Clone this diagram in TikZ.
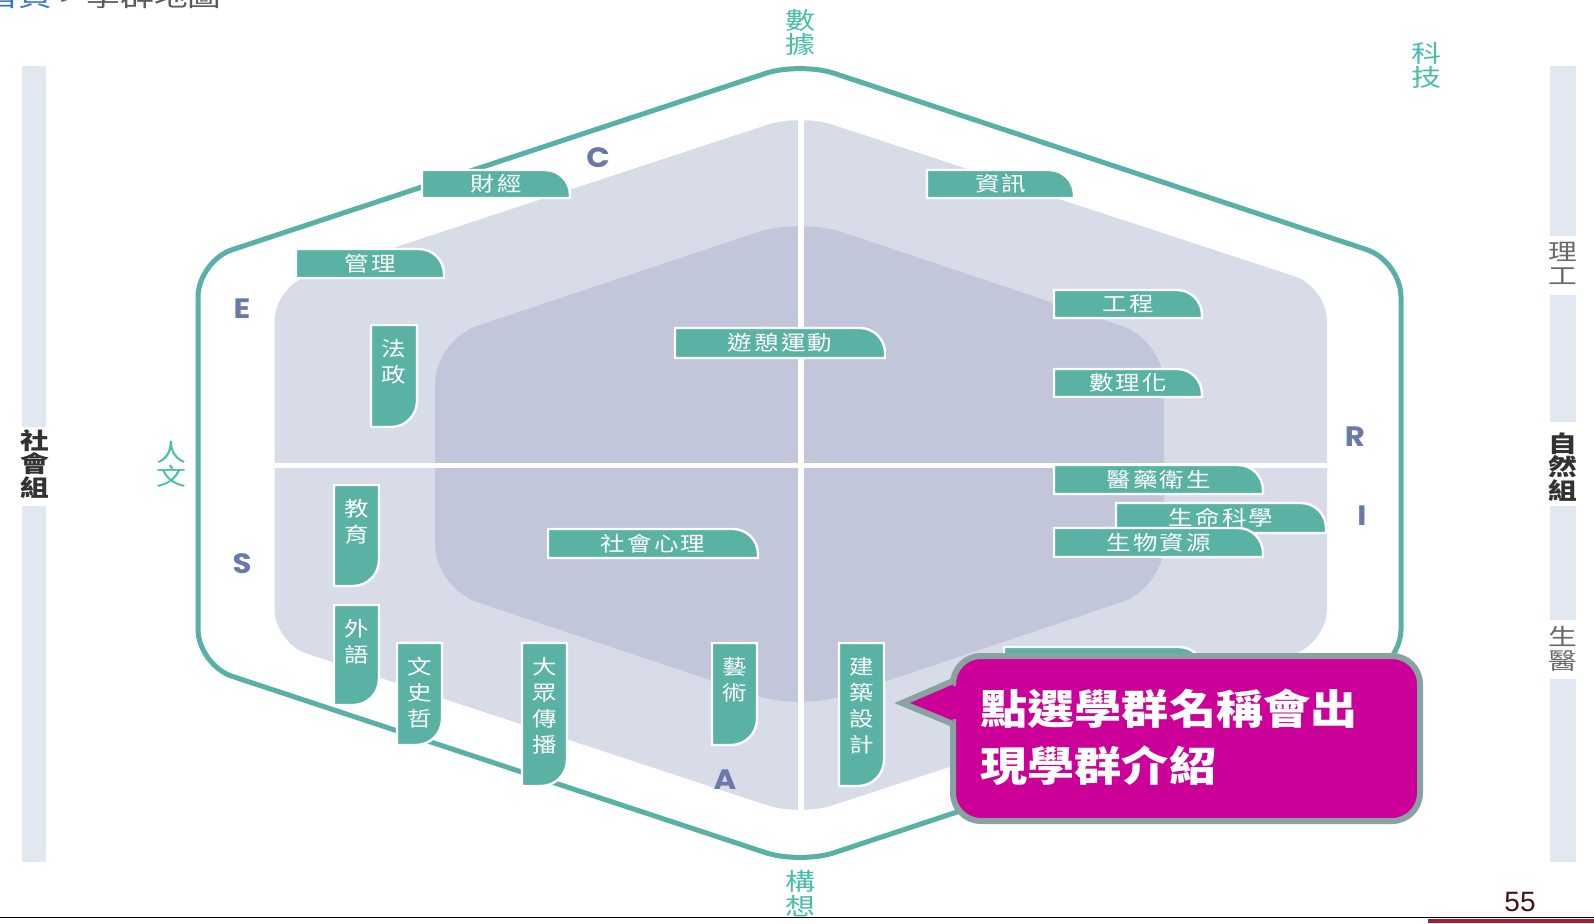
\documentclass[tikz,border=0pt]{standalone}
\usepackage{fontspec}
\newfontfamily\cjk{Noto Sans CJK TC}[FakeStretch=1.25]
\newfontfamily\cjkbox{Noto Sans CJK TC}[FakeStretch=1.2,LetterSpace=10]
\newfontfamily\cjkvert{Noto Sans CJK TC}[FakeStretch=1.2]
\newfontfamily\cjkcall{Noto Sans CJK TC}[FakeStretch=1.15]
\newfontfamily\geo{Poppins}[FakeStretch=1.1]
\newfontfamily\arialike{Liberation Sans}

\definecolor{tealline}{RGB}{88,176,166}
\definecolor{tealbox}{RGB}{90,178,165}
\definecolor{teallab}{RGB}{72,190,170}
\definecolor{hexlight}{RGB}{215,220,232}
\definecolor{hexdark}{RGB}{193,198,218}
\definecolor{sidebar}{RGB}{226,232,241}
\definecolor{lettercol}{RGB}{107,120,170}
\definecolor{callfill}{RGB}{204,0,153}
\definecolor{callborder}{RGB}{137,163,163}
\definecolor{crumbblue}{RGB}{60,120,200}
\definecolor{crumbgray}{RGB}{90,90,90}
\definecolor{pagenum}{RGB}{70,20,20}
\definecolor{crimsonband}{RGB}{165,30,45}
\definecolor{groupdark}{RGB}{50,50,50}
\definecolor{groupgray}{RGB}{105,105,105}

\tikzset{
  labbox/.style={fill=tealbox, draw=white, line width=1.2pt},
  hlabel/.style={inner sep=0pt, text=white, font=\cjkbox\fontsize{10.2}{12}\selectfont},
  vlabel/.style={inner sep=0pt, text=white, align=center, font=\cjkvert\fontsize{10.2}{13}\selectfont},
  teallabel/.style={inner sep=0pt, text=teallab, align=center, font=\cjk\fontsize{12}{12.2}\selectfont},
  sidelabel/.style={inner sep=0pt, align=center, font=\cjk\bfseries\fontsize{11.5}{11.85}\selectfont},
  sidelabelthin/.style={inner sep=0pt, align=center, font=\cjk\fontsize{11.5}{11.85}\selectfont},
  letterlab/.style={inner sep=0pt, text=lettercol, font=\geo\bfseries\fontsize{14}{14}\selectfont},
  sidebarfill/.style={fill=sidebar, draw=none},
  outerhex/.style={draw=tealline, line width=2.5pt, rounded corners=18pt},
  callshape/.style={fill=callfill, draw=callborder, line width=3pt},
  calltext/.style={inner sep=0pt, text=white, align=left, font=\cjkcall\bfseries\fontsize{20.5}{28.5}\selectfont},
}

% horizontal label box: name, x, y, w, h, text
\newcommand\hbx[6]{%
  \pgfmathsetmacro\bxa{#2}\pgfmathsetmacro\bxb{#2+#4}%
  \pgfmathsetmacro\bya{#3}\pgfmathsetmacro\byb{#3+#5}%
  \draw[labbox] (\bxa,\bya) -- ({\bxb-25},\bya) .. controls ({\bxb-11.2},\bya) and (\bxb,{\bya+11.2}) .. (\bxb,{\bya+25}) -- (\bxb,\byb) -- (\bxa,\byb) -- cycle;
  \node[hlabel] (#1) at ({#2+#4/2},{#3+#5/2}) {#6};
}
% vertical label box: name, x, y, w, h, text, number of chars
\newcommand\vbx[7]{%
  \pgfmathsetmacro\bxa{#2}\pgfmathsetmacro\bxb{#2+#4}%
  \pgfmathsetmacro\bya{#3}\pgfmathsetmacro\byb{#3+#5}%
  \draw[labbox] (\bxa,\bya) -- (\bxb,\bya) -- (\bxb,{\byb-26}) .. controls (\bxb,{\byb-11.6}) and ({\bxb-11.6},\byb) .. ({\bxb-26},\byb) -- (\bxa,\byb) -- cycle;
  \node[vlabel] (#1) at ({#2+#4/2},{#3+24+(#7-1)*13}) {#6};
}

\begin{document}
\begin{tikzpicture}[x=0.5pt,y=-0.5pt]
\useasboundingbox (0,0) rectangle (1594,923);
\fill[white] (0,0) rectangle (1594,923);

% side bars
\fill[sidebarfill] (22,66) rectangle (46,427);
\fill[sidebarfill] (22,506) rectangle (46,862);
\fill[sidebarfill] (1550,66) rectangle (1576,236);
\fill[sidebarfill] (1550,295) rectangle (1576,422);
\fill[sidebarfill] (1550,506) rectangle (1576,620);
\fill[sidebarfill] (1550,679) rectangle (1576,862);
\node[sidelabel, text=groupdark] (social) at (34.5,464) {社\\會\\組};
\node[sidelabelthin, text=groupgray] (scieng) at (1563,263.5) {理\\工};
\node[sidelabel, text=groupdark] (natural) at (1563,467) {自\\然\\組};
\node[sidelabelthin, text=groupgray] (biomed) at (1563,649) {生\\醫};

% hexagons
\fill[hexlight, rounded corners=17pt] (274.5,465) -- (274.5,287) -- (800,114) -- (1327,287) -- (1327,643) -- (800,816) -- (274.5,643) -- cycle;
\fill[hexdark, rounded corners=22pt] (435,465) -- (435,340) -- (800,218) -- (1164,340) -- (1164,588) -- (800,710) -- (435,588) -- cycle;
\draw[white, line width=3pt] (801,112) -- (801,818);
\draw[white, line width=2.5pt] (274.5,465.5) -- (1327,465.5);
\draw[outerhex] (198,462) -- (198,261) -- (800,62) -- (1401,261) -- (1401,665) -- (800,864) -- (198,665) -- cycle;

% axis labels
\node[teallabel] (data) at (800,32.5) {數\\據};
\node[teallabel] (concept) at (800,893.5) {構\\想};
\node[teallabel] (tech) at (1426,65.5) {科\\技};
\node[teallabel, font=\cjk\fontsize{12}{10.65}\selectfont] (human) at (171,464) {人\\文};

% letters
\node[letterlab] (lC) at (598,158) {C};
\node[letterlab] (lE) at (242,309) {E};
\node[letterlab] (lS) at (242,564) {S};
\node[letterlab] (lA) at (725,780) {A};
\node[letterlab] (lR) at (1355,437) {R};
\node[letterlab] (lI) at (1362,516) {I};

% horizontal boxes
\hbx{caijing}{422}{170}{148}{28}{財經}
\hbx{guanli}{296}{249}{148}{29}{管理}
\hbx{zixun}{927}{170}{147}{28}{資訊}
\hbx{gongcheng}{1054}{290}{148}{28}{工程}
\hbx{shulihua}{1054}{369}{148}{28}{數理化}
\hbx{youqi}{675}{328}{210}{30}{遊憩運動}
\hbx{yiyao}{1054}{465}{209}{29}{醫藥衛生}
\hbx{shengming}{1116}{503}{210}{30}{生命科學}
\hbx{shengwu}{1054}{528}{209}{29}{生物資源}
\hbx{shehui}{548}{529}{210}{29}{社會心理}

% vertical boxes
\vbx{fazheng}{371}{325}{46}{102}{法\\政}{2}
\vbx{jiaoyu}{334}{485}{45}{101}{教\\育}{2}
\vbx{waiyu}{334}{605}{45}{100}{外\\語}{2}
\vbx{wenshizhe}{397}{643}{45}{102}{文\\史\\哲}{3}
\vbx{dazhong}{522}{643}{45}{143}{大\\眾\\傳\\播}{4}
\vbx{yishu}{712}{643}{45}{102}{藝\\術}{2}
\vbx{jianzhu}{839}{643}{45}{143}{建\\築\\設\\計}{4}

% box hidden behind the callout
\hbx{hidden}{1004}{647}{200}{29}{}

% callout
\draw[callshape, rounded corners=14pt] (953,656) rectangle (1420,821);
\filldraw[fill=callfill, draw=callborder, line width=3pt, line join=miter] (953,681) -- (902,703) -- (953,724);
\fill[callfill] (948,686) rectangle (958,719);
\node[calltext, anchor=west] (callout) at (980,737) {點選學群名稱會出\\現學群介紹};

% breadcrumb, page number, bottom line
\node[anchor=base east, inner sep=0pt, font=\cjk\fontsize{13.5}{14}\selectfont] (crumb) at (222,6) {\textcolor{crumbblue}{首頁} \textcolor{crumbgray}{> 學群地圖}};
\node[inner sep=0pt, text=pagenum, font=\arialike\fontsize{14}{14}\selectfont] (page) at (1520,902) {55};
\fill[crimsonband] (1428,919) rectangle (1594,923);
\draw[black, line width=0.8pt] (0,917.5) -- (1594,917.5);
\end{tikzpicture}
\end{document}
